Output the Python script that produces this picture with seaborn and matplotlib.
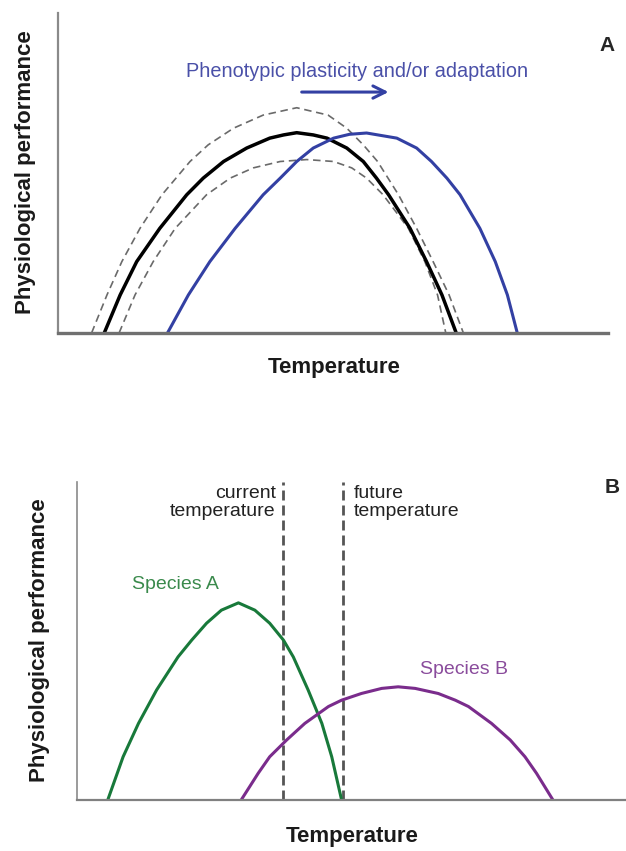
import matplotlib
matplotlib.use("Agg")
import matplotlib.pyplot as plt
import seaborn as sns

# panel A: thermal performance curves (arbitrary units 0-100)
black_x = [8.4, 11.3, 14.3, 18.5, 23.4, 26.4, 30.1, 34.3, 38.5, 41.0, 43.4, 46.4,
           48.9, 52.5, 55.5, 57.9, 60.1, 64.0, 67.0, 69.8, 72.4]
black_y = [0, 11.9, 22.3, 32.7, 43.2, 48.4, 53.6, 57.8, 60.9, 61.9, 62.6, 61.9,
           60.9, 57.8, 53.6, 48.4, 43.2, 32.7, 22.3, 11.9, 0]

blue_x = [19.9, 23.7, 27.6, 32.2, 37.3, 40.4, 43.4, 46.4, 50.1, 53.0, 56.1, 61.6,
          65.2, 67.9, 70.7, 73.1, 76.7, 79.5, 81.7, 83.5]
blue_y = [0, 11.9, 22.3, 32.7, 43.2, 48.4, 53.6, 57.8, 60.9, 62.1, 62.5, 60.9,
          57.8, 53.6, 48.4, 43.2, 32.7, 22.3, 11.9, 0]

upper_x = [6.1, 8.9, 11.6, 14.9, 18.9, 24.0, 27.3, 31.9, 37.3, 43.4, 49.1, 52.5,
           55.5, 58.1, 61.9, 65.2, 68.2, 71.1, 73.7]
upper_y = [0, 11.9, 22.3, 32.7, 43.2, 53.6, 58.8, 64.0, 68.1, 70.4, 68.1, 64.0,
           58.8, 53.6, 43.2, 32.7, 22.3, 11.9, 0]

lower_x = [11.1, 14.0, 17.3, 21.3, 27.0, 31.3, 35.5, 40.4, 45.2, 50.1, 53.4, 56.1,
           59.1, 63.7, 66.7, 69.0, 70.5]
lower_y = [0, 11.9, 22.3, 32.7, 43.2, 48.4, 51.6, 53.6, 54.2, 53.6, 51.6, 48.4,
           43.2, 32.7, 22.3, 11.9, 0]

# panel B: two species
spA_x = [5.6, 8.4, 11.2, 14.5, 18.4, 20.9, 23.6, 26.3, 29.4, 32.4, 35.1, 37.6,
         39.4, 42.1, 44.6, 46.4, 48.2]
spA_y = [0, 13.6, 24.1, 34.6, 45.0, 50.3, 55.6, 59.7, 62.0, 59.7, 55.6, 50.3,
         45.0, 34.6, 24.1, 13.6, 0]

spB_x = [29.9, 33.0, 35.1, 38.2, 41.5, 45.8, 48.2, 51.8, 55.5, 58.5, 61.6, 65.8,
         68.9, 71.3, 75.5, 78.9, 81.6, 83.7, 86.7]
spB_y = [0, 8.4, 13.6, 18.9, 24.1, 29.4, 31.4, 33.5, 35.1, 35.6, 35.1, 33.5,
         31.4, 29.4, 24.1, 18.9, 13.6, 8.4, 0]

current_temp = 37.5
future_temp = 48.5

sns.set_style("white")
plt.rcParams['font.family'] = ['Liberation Sans', 'DejaVu Sans']

fig = plt.figure(figsize=(6.26, 8.51), dpi=100)
axA = fig.add_axes([0.0927, 0.6087, 0.8786, 0.376])
axB = fig.add_axes([0.123, 0.0599, 0.877, 0.3737])

for ax in (axA, axB):
    ax.set_xlim(0, 100)
    ax.set_ylim(0, 100)
    ax.set_xticks([])
    ax.set_yticks([])
    for s in ('top', 'right'):
        ax.spines[s].set_visible(False)
    ax.patch.set_alpha(0)

axA.spines['left'].set_color('#8a8a8a')
axA.spines['left'].set_linewidth(1.6)
axA.spines['bottom'].set_color('#707070')
axA.spines['bottom'].set_linewidth(2.4)
axB.spines['left'].set_color('#8a8a8a')
axB.spines['left'].set_linewidth(1.2)
axB.spines['bottom'].set_color('#808080')
axB.spines['bottom'].set_linewidth(1.6)

# --- panel A ---
sns.lineplot(x=upper_x, y=upper_y, ax=axA, color='#6a6a6a', linewidth=1.2,
             linestyle=(0, (4.5, 2.8)))
sns.lineplot(x=lower_x, y=lower_y, ax=axA, color='#6a6a6a', linewidth=1.2,
             linestyle=(0, (4.5, 2.8)))
sns.lineplot(x=black_x, y=black_y, ax=axA, color='black', linewidth=2.5)
sns.lineplot(x=blue_x, y=blue_y, ax=axA, color='#3340a3', linewidth=2.2)

axA.text(54.4, 81.6, 'Phenotypic plasticity and/or adaptation', color='#4a50a8',
         fontsize=14.3, ha='center', va='center')
axA.annotate('', xy=(60.6, 75.3), xytext=(43.8, 75.3),
             arrowprops=dict(arrowstyle='->', color='#3340a3', lw=2.2,
                             mutation_scale=22))
axA.text(99.8, 90, 'A', fontsize=15, fontweight='bold', ha='center', va='center')
axA.text(0.502, -0.109, 'Temperature', transform=axA.transAxes, fontsize=16,
         fontweight='bold', ha='center', va='center', color='#1a1a1a')
axA.text(-0.06, 0.503, 'Physiological performance', transform=axA.transAxes,
         fontsize=16, fontweight='bold', rotation=90, ha='center', va='center',
         color='#1a1a1a')

# --- panel B ---
for t in (current_temp, future_temp):
    axB.axvline(t, color='#555555', linewidth=2.0, linestyle=(0, (3.6, 1.8)))
sns.lineplot(x=spA_x, y=spA_y, ax=axB, color='#18793a', linewidth=2.2)
sns.lineplot(x=spB_x, y=spB_y, ax=axB, color='#7a2c8c', linewidth=2.2)

axB.text(36.2, 93.6, 'current\ntemperature', fontsize=14, ha='right', va='center',
         linespacing=1.05, color='#222222')
axB.text(50.5, 93.6, 'future\ntemperature', fontsize=14, ha='left', va='center',
         linespacing=1.05, color='#222222')
axB.text(18.0, 67.9, 'Species A', fontsize=14, color='#3a8a4c', ha='center', va='center')
axB.text(70.5, 41.2, 'Species B', fontsize=14, color='#8a4c9c', ha='center', va='center')
axB.text(97.4, 98.4, 'B', fontsize=15, fontweight='bold', ha='center', va='center')
axB.text(0.501, -0.116, 'Temperature', transform=axB.transAxes, fontsize=16,
         fontweight='bold', ha='center', va='center', color='#1a1a1a')
axB.text(-0.0674, 0.503, 'Physiological performance', transform=axB.transAxes,
         fontsize=16, fontweight='bold', rotation=90, ha='center', va='center',
         color='#1a1a1a')

fig.savefig('out.png', dpi=100, facecolor='white')
